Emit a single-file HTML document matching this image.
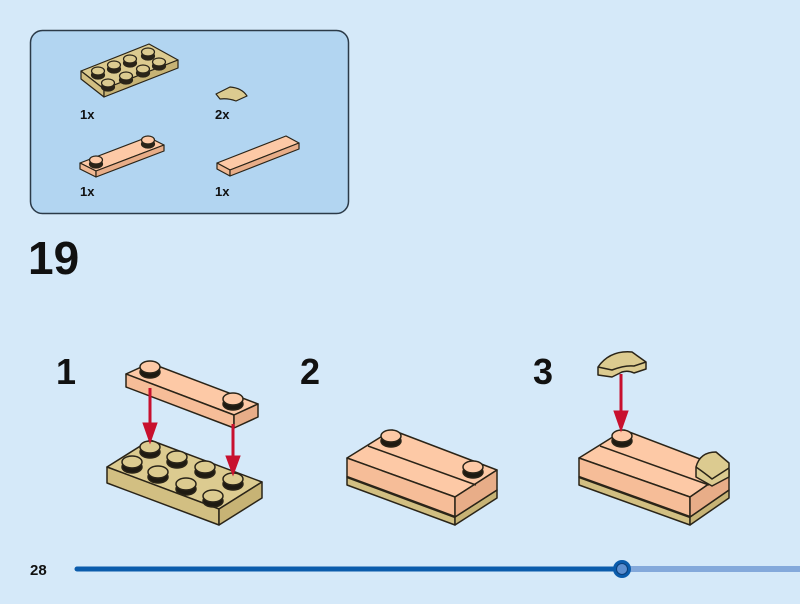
<!DOCTYPE html>
<html><head><style>
body{margin:0;background:#d5e9f9;}
svg{display:block}
text{font-family:"Liberation Sans",sans-serif;font-weight:bold;fill:#111}
</style></head><body>
<svg width="800" height="604" viewBox="0 0 800 604" xmlns="http://www.w3.org/2000/svg">
<rect width="800" height="604" fill="#d5e9f9"/>
<rect x="30.5" y="30.5" width="318" height="183" rx="12" fill="#b2d5f1" stroke="#2b3a48" stroke-width="1.5"/>
<g stroke="#2a2418" stroke-width="1.2" stroke-linejoin="round">
<!-- box: 2x4 tan -->
<polygon points="81,71 149,44 178,60 104,89" fill="#dccb90"/>
<polygon points="81,71 104,89 104,97 81,79" fill="#d2bf82"/>
<polygon points="104,89 178,60 178,68 104,97" fill="#c7b375"/>
<g fill="#2a2418">
<ellipse cx="98" cy="75" rx="6.5" ry="4"/><ellipse cx="114" cy="69" rx="6.5" ry="4"/><ellipse cx="130" cy="63" rx="6.5" ry="4"/><ellipse cx="148" cy="56" rx="6.5" ry="4"/>
<ellipse cx="108" cy="87" rx="6.5" ry="4"/><ellipse cx="126" cy="80" rx="6.5" ry="4"/><ellipse cx="143" cy="73" rx="6.5" ry="4"/><ellipse cx="159" cy="66" rx="6.5" ry="4"/>
</g>
<g fill="#dccb90">
<ellipse cx="98" cy="71" rx="6.5" ry="4"/><ellipse cx="114" cy="65" rx="6.5" ry="4"/><ellipse cx="130" cy="59" rx="6.5" ry="4"/><ellipse cx="148" cy="52" rx="6.5" ry="4"/>
<ellipse cx="108" cy="83" rx="6.5" ry="4"/><ellipse cx="126" cy="76" rx="6.5" ry="4"/><ellipse cx="143" cy="69" rx="6.5" ry="4"/><ellipse cx="159" cy="62" rx="6.5" ry="4"/>
</g>
<!-- quarter tile -->
<path d="M216,94 L230,87 Q242,88 247,96 L236,101 Q228,98 220,99 Z" fill="#dccb90"/>
<!-- 1x4 peach with 2 studs -->
<polygon points="80,163 148,137 164,145 96,171" fill="#fdc9a6"/>
<polygon points="80,163 96,171 96,177 80,169" fill="#f0b994"/>
<polygon points="96,171 164,145 164,151 96,177" fill="#e8ad88"/>
<ellipse cx="96" cy="164" rx="6.5" ry="4" fill="#2a2418"/><ellipse cx="96" cy="160" rx="6.5" ry="4" fill="#fdc9a6"/>
<ellipse cx="148" cy="144" rx="6.5" ry="4" fill="#2a2418"/><ellipse cx="148" cy="140" rx="6.5" ry="4" fill="#fdc9a6"/>
<!-- tile peach -->
<polygon points="217,163 286,136 299,143 230,170" fill="#fdc9a6"/>
<polygon points="217,163 230,170 230,176 217,169" fill="#f0b994"/>
<polygon points="230,170 299,143 299,149 230,176" fill="#e8ad88"/>
</g>
<text x="80" y="119" font-size="13">1x</text>
<text x="215" y="119" font-size="13">2x</text>
<text x="80" y="196" font-size="13">1x</text>
<text x="215" y="196" font-size="13">1x</text>
<text x="28" y="274" font-size="46">19</text>
<text x="56" y="384" font-size="36">1</text>
<text x="300" y="384" font-size="36">2</text>
<text x="533" y="384" font-size="36">3</text>

<g stroke="#2a2418" stroke-width="1.5" stroke-linejoin="round">
<polygon points="107,467 150,440 262,482 219,509" fill="#dccb90"/>
<polygon points="107,467 219,509 219,525 107,483" fill="#d2bf82"/>
<polygon points="219,509 262,482 262,498 219,525" fill="#c7b375"/>
<g fill="#1e1a12">
<ellipse cx="150" cy="452" rx="10" ry="6"/><ellipse cx="177" cy="462" rx="10" ry="6"/><ellipse cx="205" cy="472" rx="10" ry="6"/><ellipse cx="233" cy="484" rx="10" ry="6"/>
<ellipse cx="132" cy="467" rx="10" ry="6"/><ellipse cx="158" cy="477" rx="10" ry="6"/><ellipse cx="186" cy="489" rx="10" ry="6"/><ellipse cx="213" cy="501" rx="10" ry="6"/>
</g>
<g fill="#dccb90">
<ellipse cx="150" cy="447" rx="10" ry="6"/><ellipse cx="177" cy="457" rx="10" ry="6"/><ellipse cx="205" cy="467" rx="10" ry="6"/><ellipse cx="233" cy="479" rx="10" ry="6"/>
<ellipse cx="132" cy="462" rx="10" ry="6"/><ellipse cx="158" cy="472" rx="10" ry="6"/><ellipse cx="186" cy="484" rx="10" ry="6"/><ellipse cx="213" cy="496" rx="10" ry="6"/>
</g>
<polygon points="126,374 150,363 258,404 234,415" fill="#fdc9a6"/>
<polygon points="126,374 234,415 234,428 126,387" fill="#f6bd98"/>
<polygon points="234,415 258,404 258,417 234,428" fill="#e8ad88"/>
<ellipse cx="150" cy="372" rx="10" ry="6" fill="#1e1a12"/><ellipse cx="150" cy="367" rx="10" ry="6" fill="#fdc9a6"/>
<ellipse cx="233" cy="404" rx="10" ry="6" fill="#1e1a12"/><ellipse cx="233" cy="399" rx="10" ry="6" fill="#fdc9a6"/>
</g>
<g fill="#c8102e" stroke="#c8102e">
<line x1="150" y1="388" x2="150" y2="425" stroke-width="3"/><polygon points="143,423 157,423 150,443"/>
<line x1="233" y1="424" x2="233" y2="458" stroke-width="3"/><polygon points="226,456 240,456 233,475"/>
</g>

<g stroke="#2a2418" stroke-width="1.5" stroke-linejoin="round">
<polygon points="347,477 455,517 455,525 347,485" fill="#d2bf82"/>
<polygon points="455,517 497,490 497,498 455,525" fill="#c7b375"/>
<polygon points="347,458 392,430 497,470 455,497" fill="#fdc9a6"/>
<polygon points="347,458 455,497 455,517 347,477" fill="#f6bd98"/>
<polygon points="455,497 497,470 497,490 455,517" fill="#e8ad88"/>
<line x1="347" y1="477" x2="455" y2="517" stroke-width="2.5"/>
<line x1="368" y1="446" x2="476" y2="485"/>
<ellipse cx="391" cy="441" rx="10" ry="6" fill="#1e1a12"/><ellipse cx="391" cy="436" rx="10" ry="6" fill="#fdc9a6"/>
<ellipse cx="473" cy="472" rx="10" ry="6" fill="#1e1a12"/><ellipse cx="473" cy="467" rx="10" ry="6" fill="#fdc9a6"/>
</g>

<g stroke="#2a2418" stroke-width="1.5" stroke-linejoin="round">
<polygon points="579,477 690,517 690,525 579,485" fill="#d2bf82"/>
<polygon points="690,517 729,490 729,498 690,525" fill="#c7b375"/>
<polygon points="579,458 624,430 729,470 690,497" fill="#fdc9a6"/>
<polygon points="579,458 690,497 690,517 579,477" fill="#f6bd98"/>
<polygon points="690,497 729,470 729,490 690,517" fill="#e8ad88"/>
<line x1="579" y1="477" x2="690" y2="517" stroke-width="2.5"/>
<line x1="600" y1="446" x2="709" y2="485"/>
<ellipse cx="622" cy="441" rx="10" ry="6" fill="#1e1a12"/><ellipse cx="622" cy="436" rx="10" ry="6" fill="#fdc9a6"/>
<path d="M696,467 Q700,452 716,452 L729,463 L729,477 L712,486 L696,477 Z" fill="#dccb90"/>
<path d="M696,467 Q706,474 712,479 L729,468" fill="none"/>
<path d="M598,367 Q610,350 632,352 L646,362 L646,369 L634,373 Q628,370 622,372 L612,377 L598,375 Z" fill="#dccb90"/>
<path d="M598,367 L612,370 Q625,365 634,366 L646,362" fill="none"/>
</g>
<g fill="#c8102e" stroke="#c8102e">
<line x1="621" y1="374" x2="621" y2="413" stroke-width="3"/><polygon points="614,411 628,411 621,431"/>
</g>

<text x="30" y="575" font-size="15">28</text>
<line x1="622" y1="569" x2="800" y2="569" stroke="#84a9db" stroke-width="6"/>
<line x1="77" y1="569" x2="622" y2="569" stroke="#0b5cac" stroke-width="5" stroke-linecap="round"/>
<circle cx="622" cy="569" r="9" fill="#0b5cac"/>
<circle cx="622" cy="569" r="5.5" fill="#5d8fd0" stroke="#0b3f7a" stroke-width="1"/>
</svg>
</body></html>
